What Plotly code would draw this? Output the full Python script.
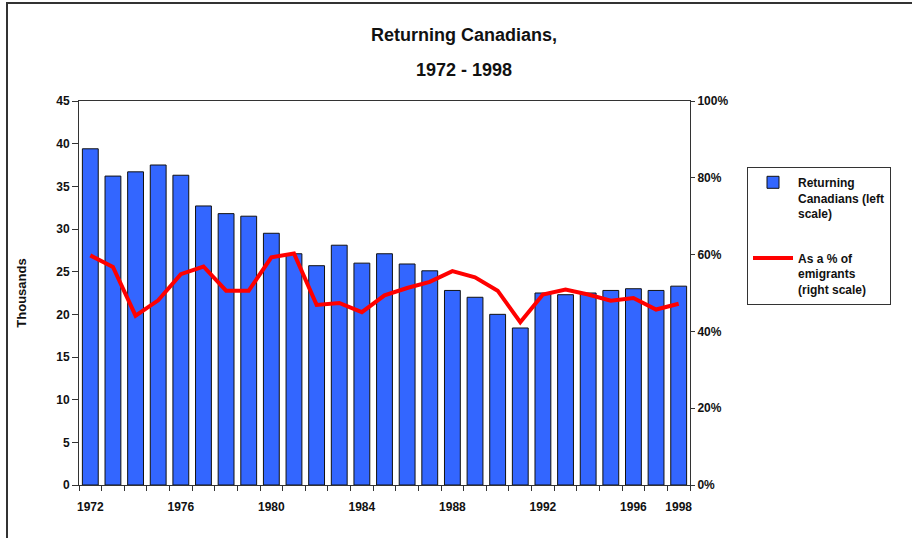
import plotly.graph_objects as go

years = list(range(1972, 1999))
returning_thousands = [39.4, 36.2, 36.7, 37.5, 36.3, 32.7, 31.8, 31.5, 29.5, 27.1,
                       25.7, 28.1, 26.0, 27.1, 25.9, 25.1, 22.8, 22.0, 20.0, 18.4,
                       22.5, 22.3, 22.5, 22.8, 23.0, 22.8, 23.3]
pct_of_emigrants = [59.8, 56.8, 44.1, 48.1, 54.9, 56.9, 50.6, 50.6, 59.3, 60.3,
                    46.9, 47.4, 45.0, 49.4, 51.3, 52.9, 55.7, 54.1, 50.6, 42.4,
                    49.6, 50.9, 49.6, 48.0, 48.7, 45.7, 47.2]
x_tick_years = [1972, 1976, 1980, 1984, 1988, 1992, 1996, 1998]
left_ticks = [0, 5, 10, 15, 20, 25, 30, 35, 40, 45]
right_ticks = [0, 20, 40, 60, 80, 100]

FONT = "Arial, Liberation Sans, sans-serif"
AX = "#333333"

W, H = 912, 538
L, R, T, B = 79, 690, 101, 485  # plot area in pixels

def px_x(p):
    return (p - L) / (R - L)

def px_y(p):
    return (B - p) / (B - T)

fig = go.Figure()
fig.add_trace(go.Bar(
    x=years, y=returning_thousands,
    name="Returning<br>Canadians (left<br>scale)",
    legendgroup="bars",
    marker=dict(color="#3366FF", line=dict(color="#111111", width=1)),
    yaxis="y",
))
fig.add_trace(go.Scatter(
    x=years, y=pct_of_emigrants,
    name="As a % of<br>emigrants<br>(right scale)",
    legendgroup="line",
    mode="lines",
    line=dict(color="#FF0000", width=4),
    yaxis="y2",
))

fig.update_layout(
    width=W, height=H,
    margin=dict(l=L, r=W - R, t=T, b=H - B),
    paper_bgcolor="white", plot_bgcolor="white",
    font=dict(family=FONT, size=12, color="#111111", weight="bold"),
    bargap=0.3,
    title=dict(text="<b>Returning Canadians,</b>", x=464 / W, xref="container",
               xanchor="center", y=1 - 35 / H, yref="container", yanchor="middle",
               font=dict(family=FONT, size=18, color="#111111")),
    xaxis=dict(
        range=[1971.5, 1998.5], tickvals=x_tick_years,
        ticktext=[str(v) for v in x_tick_years],
        ticks="", showline=True, linecolor=AX, linewidth=1, mirror=True,
        showgrid=False, zeroline=False,
        minor=dict(tickvals=[y - 0.5 for y in years] + [1998.5], ticks="outside",
                   ticklen=5, tickcolor=AX, showgrid=False),
        tickfont=dict(size=12),
        ticklabelstandoff=11,
    ),
    yaxis=dict(
        range=[0, 45], tickvals=left_ticks, ticks="outside", ticklen=6,
        tickcolor=AX, showline=True, linecolor=AX, linewidth=1, mirror=True,
        showgrid=False, zeroline=False,
        title=dict(text="Thousands", font=dict(size=13), standoff=26),
        tickfont=dict(size=12),
    ),
    yaxis2=dict(
        range=[0, 100], tickvals=right_ticks,
        ticktext=[f"{v}%" for v in right_ticks],
        overlaying="y", side="right", ticks="outside", ticklen=4,
        tickcolor=AX, showline=True, linecolor=AX, linewidth=1,
        showgrid=False, zeroline=False, tickfont=dict(size=12),
    ),
    legend=dict(
        x=px_x(747), y=px_y(167), xanchor="left", yanchor="top",
        bordercolor=AX, borderwidth=1, bgcolor="white",
        font=dict(size=12, family=FONT), itemwidth=40, valign="top",
        tracegroupgap=26, traceorder="grouped",
    ),
    showlegend=True,
)

fig.add_annotation(text="<b>1972 - 1998</b>", x=px_x(464), y=px_y(70),
                   xref="paper", yref="paper", showarrow=False,
                   font=dict(family=FONT, size=18, color="#111111"),
                   xanchor="center", yanchor="middle")

# outer chart-area frame
fig.add_shape(type="rect", xref="paper", yref="paper",
              x0=px_x(7), x1=px_x(1000), y0=px_y(600), y1=px_y(3),
              line=dict(color="#333333", width=2), fillcolor="rgba(0,0,0,0)",
              layer="below")

fig.write_html("out.html", config={"displayModeBar": False},
               post_script="document.body.style.margin='0';document.body.style.overflow='hidden';")
